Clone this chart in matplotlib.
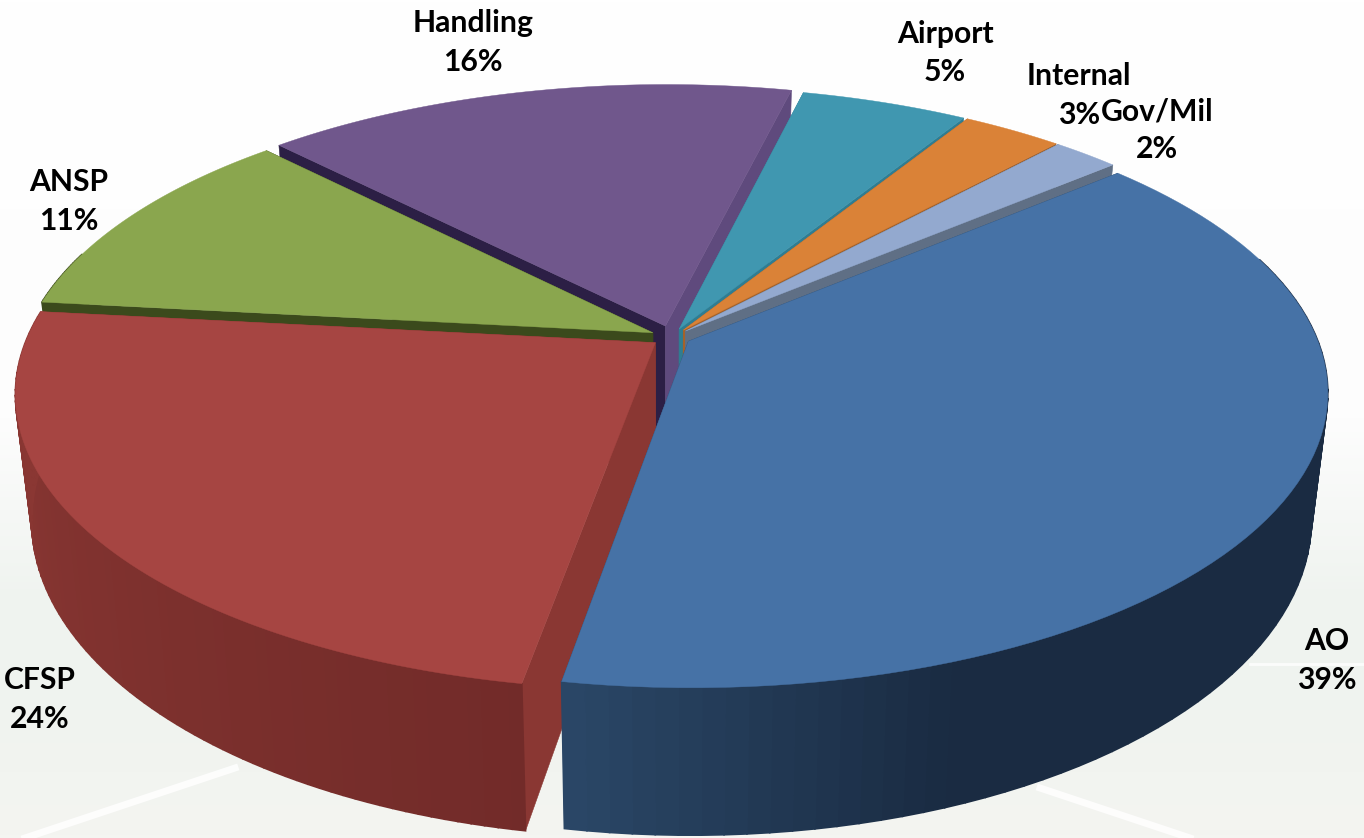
import numpy as np
import matplotlib
matplotlib.use('Agg')
import matplotlib.pyplot as plt
from matplotlib.colors import LinearSegmentedColormap, to_rgb

plt.rcParams['font.family'] = ['Lato', 'DejaVu Sans']

labels = ['AO', 'CFSP', 'ANSP', 'Handling', 'Airport', 'Internal', 'Gov/Mil']
values = [39, 24, 11, 16, 5, 3, 2]

top_colors = ['#4672a6', '#a64542', '#8aa64e', '#70578c', '#4097b0', '#da8237', '#93a9cf']
start_face = ['#2a4767', '#8a3733', '#3b4a1c', '#2c1f45', '#2f7d92', '#a5622a', '#5f6f85']
end_face = ['#2a4767', '#8a3733', '#3b4a1c', '#5f4a7d', '#2f7d92', '#a5622a', '#5f6f85']
side_near = ['#2a4767', '#722b29', '#3b4a1c', '#2c1f45', '#2f7d92', '#a5622a', '#5f6f85']
side_far = ['#1a2b42', '#8a3733', '#3b4a1c', '#2c1f45', '#2f7d92', '#a5622a', '#5f6f85']
shade_span = [30, 75, 70, 70, 70, 70, 70]
explode = [0.03, 0.033, 0.034, 0.04, 0.03, 0.03, 0.03]

# painter's order, back slices first
draw_order = [3, 4, 5, 6, 2, 1, 0]

# label placement: centre x, then baselines of the name and the percentage
label_x = [1327, 40, 69, 473, 945, 1079, 1157]
name_base = [650, 689, 191, 32, 43, 85, 120]
pct_base = [689, 728, 230, 71, 81, 124, 158]

# perspective of the disc, in pixels
CX, CY = 672, 337
RX, RY = 628, 286
PERSP = -0.17
DEPTH = 122
SHRINK = 0.975
START = 49.5


def project(u, v, base=False):
    s = 1.0 / (1.0 + PERSP * v)
    if base:
        return CX + SHRINK * RX * u * s, CY + RY * v * s + DEPTH * s
    return CX + RX * u * s, CY + RY * v * s


def rim(a, b, du, dv, n=80):
    t = np.radians(np.linspace(a, b, n))
    return np.sin(t) + du, -np.cos(t) + dv


def draw_slice(ax, a, b, i):
    m = np.radians((a + b) / 2)
    du, dv = explode[i] * np.sin(m), -explode[i] * np.cos(m)
    us, vs = rim(a, b, du, dv)
    tx, ty = project(us, vs)
    bx, by = project(us, vs, base=True)
    ax0, ay0 = project(du, dv)
    bx0, by0 = project(du, dv, base=True)

    # the two cut faces
    ax.fill([ax0, tx[0], bx[0], bx0], [ay0, ty[0], by[0], by0], color=start_face[i], lw=0.4)
    ax.fill([ax0, tx[-1], bx[-1], bx0], [ay0, ty[-1], by[-1], by0], color=end_face[i], lw=0.4)

    # outer wall in narrow bands, darker towards the front; the back half never shows
    near, far = np.array(to_rgb(side_near[i])), np.array(to_rgb(side_far[i]))
    thetas = np.linspace(a, b, len(us))
    for k in range(len(us) - 1):
        if vs[k] < -0.3:
            continue
        d = min(abs(((thetas[k] - 189) + 180) % 360 - 180) / shade_span[i], 1.0)
        c = near + (far - near) * d
        ax.fill([tx[k], tx[k + 1], bx[k + 1], bx[k]], [ty[k], ty[k + 1], by[k + 1], by[k]],
                color=c, lw=1.2)

    ax.fill(np.r_[ax0, tx], np.r_[ay0, ty], color=top_colors[i], lw=0.3)


def draw_background(ax):
    cmap = LinearSegmentedColormap.from_list('bg', [(0, '#ffffff'), (0.5, '#fdfdfd'),
                                                    (0.72, '#eff3ef'), (0.85, '#f0f3ef'),
                                                    (1, '#f4f5f1')])
    grad = np.linspace(0, 1, 256).reshape(-1, 1)
    ax.imshow(grad, cmap=cmap, extent=(0, 1364, 838, 0), aspect='auto', zorder=0)
    # runway markings
    ax.plot([25, 235], [838, 768], color='white', lw=5, alpha=0.85, zorder=0.5)
    ax.plot([1040, 1190], [788, 838], color='white', lw=5, alpha=0.85, zorder=0.5)
    ax.plot([1250, 1364], [664, 664], color='white', lw=2, alpha=0.8, zorder=0.5)


def main():
    fig = plt.figure(figsize=(13.64, 8.38), dpi=100)
    ax = fig.add_axes([0, 0, 1, 1])
    draw_background(ax)

    edges = START + np.cumsum([0] + values) * 3.6
    for i in draw_order:
        draw_slice(ax, edges[i], edges[i + 1], i)

    for name, val, x, y1, y2 in zip(labels, values, label_x, name_base, pct_base):
        ax.text(x, y1, name, ha='center', va='baseline', fontsize=21.7,
                fontweight='bold', color='black')
        ax.text(x, y2, f'{val}%', ha='center', va='baseline', fontsize=21.7,
                fontweight='bold', color='black')

    ax.set_xlim(0, 1364)
    ax.set_ylim(838, 0)
    ax.axis('off')
    fig.savefig('out.png', dpi=100)


if __name__ == "__main__":
    main()
